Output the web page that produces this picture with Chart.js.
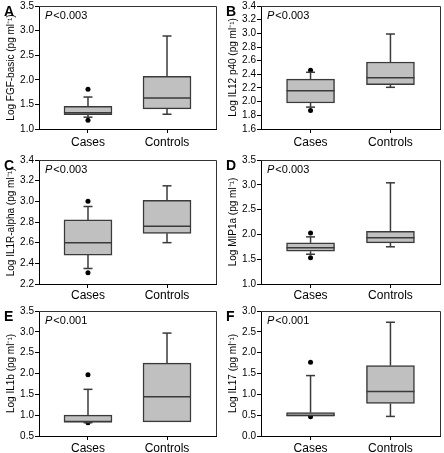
<!DOCTYPE html>
<html>
<head>
<meta charset="utf-8">
<script src="https://cdn.jsdelivr.net/npm/chart.js@4.4.1/dist/chart.umd.min.js"></script>
<style>
html, body { margin: 0; padding: 0; background: #fff; }
#wrap { position: relative; width: 444px; height: 453px; }
#wrap canvas { position: absolute; }
</style>
</head>
<body>
<div id="wrap"></div>
<script>
'use strict';

// data
const categories = ['Cases', 'Controls'];
const panelLetters = ['A', 'B', 'C', 'D', 'E', 'F'];
const pValues = ['<0.003', '<0.003', '<0.003', '<0.003', '<0.001', '<0.001'];
const yTitles = [
    'Log FGF-basic (pg ml\u207B\u00B9)',
    'Log IL12 p40 (pg ml\u207B\u00B9)',
    'Log IL1R-alpha (pg ml\u207B\u00B9)',
    'Log MIP1a (pg ml\u207B\u00B9)',
    'Log IL1b (pg ml\u207B\u00B9)',
    'Log IL17 (pg ml\u207B\u00B9)'
];
const yMin = [1.0, 1.6, 2.2, 1.0, 0.5, 0.0];
const yMax = [3.5, 3.4, 3.4, 3.5, 3.5, 3.0];
const yStep = [0.5, 0.2, 0.2, 0.5, 0.5, 0.5];

// [cases, controls] per panel
const whiskerLow = [[1.24, 1.30], [1.92, 2.21], [2.35, 2.60], [1.60, 1.75], [0.82, 0.84], [0.47, 0.47]];
const q1 = [[1.29, 1.41], [1.98, 2.25], [2.48, 2.69], [1.66, 1.83], [0.84, 0.84], [0.48, 0.78]];
const median = [[1.33, 1.63], [2.16, 2.35], [2.60, 2.76], [1.73, 1.93], [0.84, 1.44], [0.49, 1.07]];
const q3 = [[1.46, 2.07], [2.33, 2.58], [2.82, 3.01], [1.83, 2.06], [1.00, 2.25], [0.56, 1.69]];
const whiskerHigh = [[1.65, 2.89], [2.43, 2.99], [2.95, 3.15], [1.95, 3.04], [1.62, 2.97], [1.45, 2.73]];
const outliers = [
    [[1.81, 1.18], []],
    [[2.46, 1.87], []],
    [[3.00, 2.31], []],
    [[2.03, 1.53], []],
    [[1.97, 0.82], []],
    [[1.77, 0.46], []]
];

// layout
const colX = [0, 222];
const colRightPad = [6, 4];
const rowY = [0, 150, 300];
const canvasH = [156, 156, 153];
const rowTop = [6, 10, 11];
const rowBottom = [129, 134, 136];
const labelPad = [2, 0, 1];
const boxWidth = 48;
const capWidth = 9;
const fontFamily = '"Liberation Sans", Arial, sans-serif';

Chart.defaults.font.family = fontFamily;
Chart.defaults.color = '#000';

const boxExtras = {
    id: 'boxExtras',
    afterDatasetsDraw(chart, args, opts) {
        const i = opts.panel;
        const ctx = chart.ctx;
        const x = chart.scales.x;
        const y = chart.scales.y;
        const line = (x1, y1, x2, y2) => {
            ctx.beginPath();
            ctx.moveTo(x1, y1);
            ctx.lineTo(x2, y2);
            ctx.stroke();
        };
        ctx.save();
        ctx.strokeStyle = '#3a3a3a';
        ctx.lineWidth = 1.5;
        categories.forEach((c, j) => {
            const px = x.getPixelForValue(j + 1);
            const hi = y.getPixelForValue(whiskerHigh[i][j]);
            const top = y.getPixelForValue(q3[i][j]);
            const lo = y.getPixelForValue(whiskerLow[i][j]);
            const bot = y.getPixelForValue(q1[i][j]);
            if (hi < top - 0.5) {
                line(px, top, px, hi);
                line(px - capWidth / 2, hi, px + capWidth / 2, hi);
            }
            if (lo > bot + 0.5) {
                line(px, bot, px, lo);
                line(px - capWidth / 2, lo, px + capWidth / 2, lo);
            }
            const med = y.getPixelForValue(median[i][j]);
            line(px - boxWidth / 2, med, px + boxWidth / 2, med);
        });
        ctx.restore();
    },
    afterDraw(chart, args, opts) {
        const i = opts.panel;
        const ctx = chart.ctx;
        const a = chart.chartArea;
        ctx.save();
        ctx.strokeStyle = '#333';
        ctx.lineWidth = 1;
        ctx.beginPath();
        ctx.moveTo(a.left, a.top + 0.5);
        ctx.lineTo(a.right + 0.5, a.top + 0.5);
        ctx.lineTo(a.right + 0.5, a.bottom);
        ctx.stroke();

        ctx.fillStyle = '#000';
        ctx.textBaseline = 'alphabetic';
        ctx.font = 'bold 14px ' + fontFamily;
        ctx.fillText(panelLetters[i], 4, a.top + 10);

        ctx.font = 'italic 11px ' + fontFamily;
        const px = a.left + 6;
        const py = a.top + 13;
        ctx.fillText('P', px, py);
        const w = ctx.measureText('P').width;
        ctx.font = '11px ' + fontFamily;
        ctx.fillText(pValues[i], px + w + 1, py);
        ctx.restore();
    }
};

const wrap = document.getElementById('wrap');

panelLetters.forEach((letter, i) => {
    const col = i % 2;
    const row = Math.floor(i / 2);
    const canvas = document.createElement('canvas');
    canvas.width = 222;
    canvas.height = canvasH[row];
    canvas.style.left = colX[col] + 'px';
    canvas.style.top = rowY[row] + 'px';
    wrap.appendChild(canvas);

    const xh = canvasH[row] - rowBottom[row];
    const outlierPoints = [];
    outliers[i].forEach((list, j) => list.forEach(v => outlierPoints.push({ x: j + 1, y: v })));

    new Chart(canvas, {
        type: 'bar',
        data: {
            datasets: [{
                type: 'bar',
                data: categories.map((c, j) => ({ x: j + 1, y: [q1[i][j], q3[i][j]] })),
                backgroundColor: '#c0c0c0',
                borderColor: '#3a3a3a',
                borderWidth: 1.5,
                borderSkipped: false,
                barThickness: boxWidth
            }, {
                type: 'scatter',
                data: outlierPoints,
                pointRadius: 2.5,
                pointBackgroundColor: '#000',
                pointBorderWidth: 0
            }]
        },
        options: {
            responsive: false,
            animation: false,
            events: [],
            layout: {
                padding: { left: 0, top: rowTop[row], right: colRightPad[col], bottom: 0 }
            },
            plugins: {
                legend: { display: false },
                tooltip: { enabled: false },
                boxExtras: { panel: i }
            },
            scales: {
                x: {
                    type: 'linear',
                    min: 0.38,
                    max: 2.62,
                    offset: false,
                    afterBuildTicks: s => { s.ticks = [{ value: 1 }, { value: 2 }]; },
                    ticks: {
                        callback: v => categories[v - 1],
                        font: { size: 12 },
                        color: '#000',
                        padding: labelPad[row],
                        autoSkip: false,
                        maxRotation: 0
                    },
                    grid: { drawOnChartArea: false, offset: false, tickLength: 4, color: '#000' },
                    border: { color: '#000', width: 1 },
                    afterFit: s => { s.height = xh; s.paddingLeft = 0; s.paddingRight = 0; }
                },
                y: {
                    min: yMin[i],
                    max: yMax[i],
                    ticks: {
                        stepSize: yStep[i],
                        autoSkip: false,
                        callback: v => v.toFixed(1),
                        font: { size: 10 },
                        color: '#000',
                        padding: 1
                    },
                    grid: { drawOnChartArea: false, tickLength: 4, color: '#000' },
                    border: { color: '#000', width: 1 },
                    title: {
                        display: true,
                        text: yTitles[i],
                        font: { size: 10 },
                        color: '#000',
                        padding: { top: 5, bottom: 0 }
                    },
                    afterFit: s => { s.width = 39; s.paddingTop = 0; s.paddingBottom = 0; }
                }
            }
        },
        plugins: [boxExtras]
    });
});
</script>
</body>
</html>
